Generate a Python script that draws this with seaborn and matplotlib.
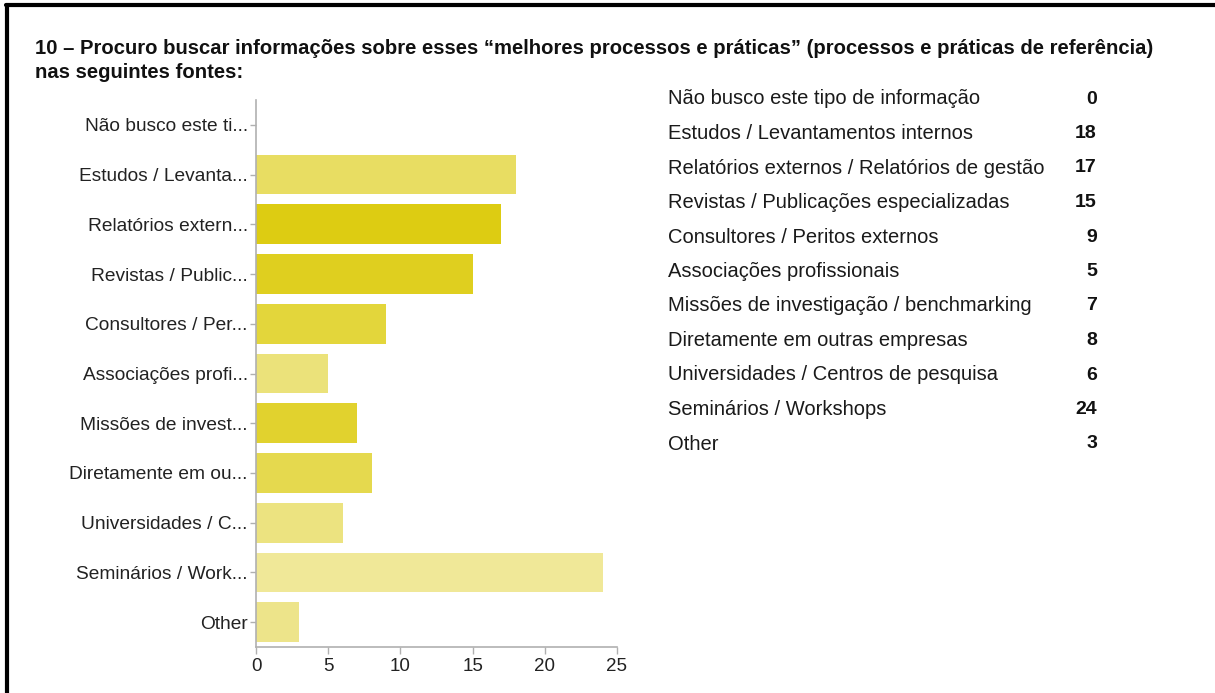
import matplotlib
matplotlib.use("Agg")
import matplotlib.pyplot as plt
import seaborn as sns
import pandas as pd
from matplotlib.lines import Line2D

title_line1 = "10 \u2013 Procuro buscar informações sobre esses \u201cmelhores processos e práticas\u201d (processos e práticas de referência)"
title_line2 = "nas seguintes fontes:"

full_labels = [
    "Não busco este tipo de informação",
    "Estudos / Levantamentos internos",
    "Relatórios externos / Relatórios de gestão",
    "Revistas / Publicações especializadas",
    "Consultores / Peritos externos",
    "Associações profissionais",
    "Missões de investigação / benchmarking",
    "Diretamente em outras empresas",
    "Universidades / Centros de pesquisa",
    "Seminários / Workshops",
    "Other",
]
short_labels = [
    "Não busco este ti...",
    "Estudos / Levanta...",
    "Relatórios extern...",
    "Revistas / Public...",
    "Consultores / Per...",
    "Associações profi...",
    "Missões de invest...",
    "Diretamente em ou...",
    "Universidades / C...",
    "Seminários / Work...",
    "Other",
]
counts = [0, 18, 17, 15, 9, 5, 7, 8, 6, 24, 3]
bar_colors = ["#E6DA5A", "#E8DD62", "#DDCC12", "#DFCF1F", "#E3D63B", "#EBE27A",
              "#E1D22E", "#E5D94E", "#ECE380", "#F0E898", "#EDE48A"]
x_ticks = [0, 5, 10, 15, 20, 25]

sns.set_theme(style="white")
plt.rcParams["font.family"] = ["Liberation Sans", "DejaVu Sans"]

fig = plt.figure(figsize=(12.15, 6.93), dpi=100)
ax = fig.add_axes([256 / 1215, 1 - 647 / 693, (617 - 256) / 1215, (647 - 100) / 693])

df = pd.DataFrame({"label": short_labels, "count": counts})
sns.barplot(data=df, x="count", y="label", hue="label", palette=bar_colors,
            legend=False, ax=ax, width=0.8, edgecolor="none", saturation=1)

ax.set_xlim(0, 25)
ax.set_xticks(x_ticks)
ax.set_xticklabels([str(t) for t in x_ticks], fontsize=13.5, color="#222222")
ax.set_xlabel("")
ax.set_ylabel("")
for lab in ax.get_yticklabels():
    lab.set_fontsize(13.8)
    lab.set_color("#222222")
for s in ["top", "right"]:
    ax.spines[s].set_visible(False)
for s in ["left", "bottom"]:
    ax.spines[s].set_color("#b0b0b0")
    ax.spines[s].set_linewidth(1.2)
ax.tick_params(axis="y", which="both", length=4, width=1, color="#b0b0b0",
               left=True, pad=2)
ax.tick_params(axis="x", which="both", length=5, width=1, color="#b0b0b0",
               bottom=True, pad=3)

# Title
fig.text(35 / 1215, 1 - 48 / 693, title_line1, fontsize=14.6, fontweight="bold",
         color="#111111", va="center", ha="left")
fig.text(35 / 1215, 1 - 72 / 693, title_line2, fontsize=14.6, fontweight="bold",
         color="#111111", va="center", ha="left")

# Right table
y0 = 99
dy = 34.5
for i, (lab, v) in enumerate(zip(full_labels, counts)):
    y = 1 - (y0 + i * dy) / 693
    fig.text(668 / 1215, y, lab, fontsize=14.5, color="#1a1a1a", va="center", ha="left")
    fig.text(1097 / 1215, y, str(v), fontsize=14, fontweight="bold", color="#111111",
             va="center", ha="right")

# Black frame (left and top)
fig.add_artist(Line2D([7 / 1215, 7 / 1215], [0, 1 - 5 / 693], transform=fig.transFigure,
                      color="black", linewidth=3))
fig.add_artist(Line2D([6 / 1215, 1], [1 - 5 / 693, 1 - 5 / 693], transform=fig.transFigure,
                      color="black", linewidth=3))

fig.savefig("out.png", dpi=100)
